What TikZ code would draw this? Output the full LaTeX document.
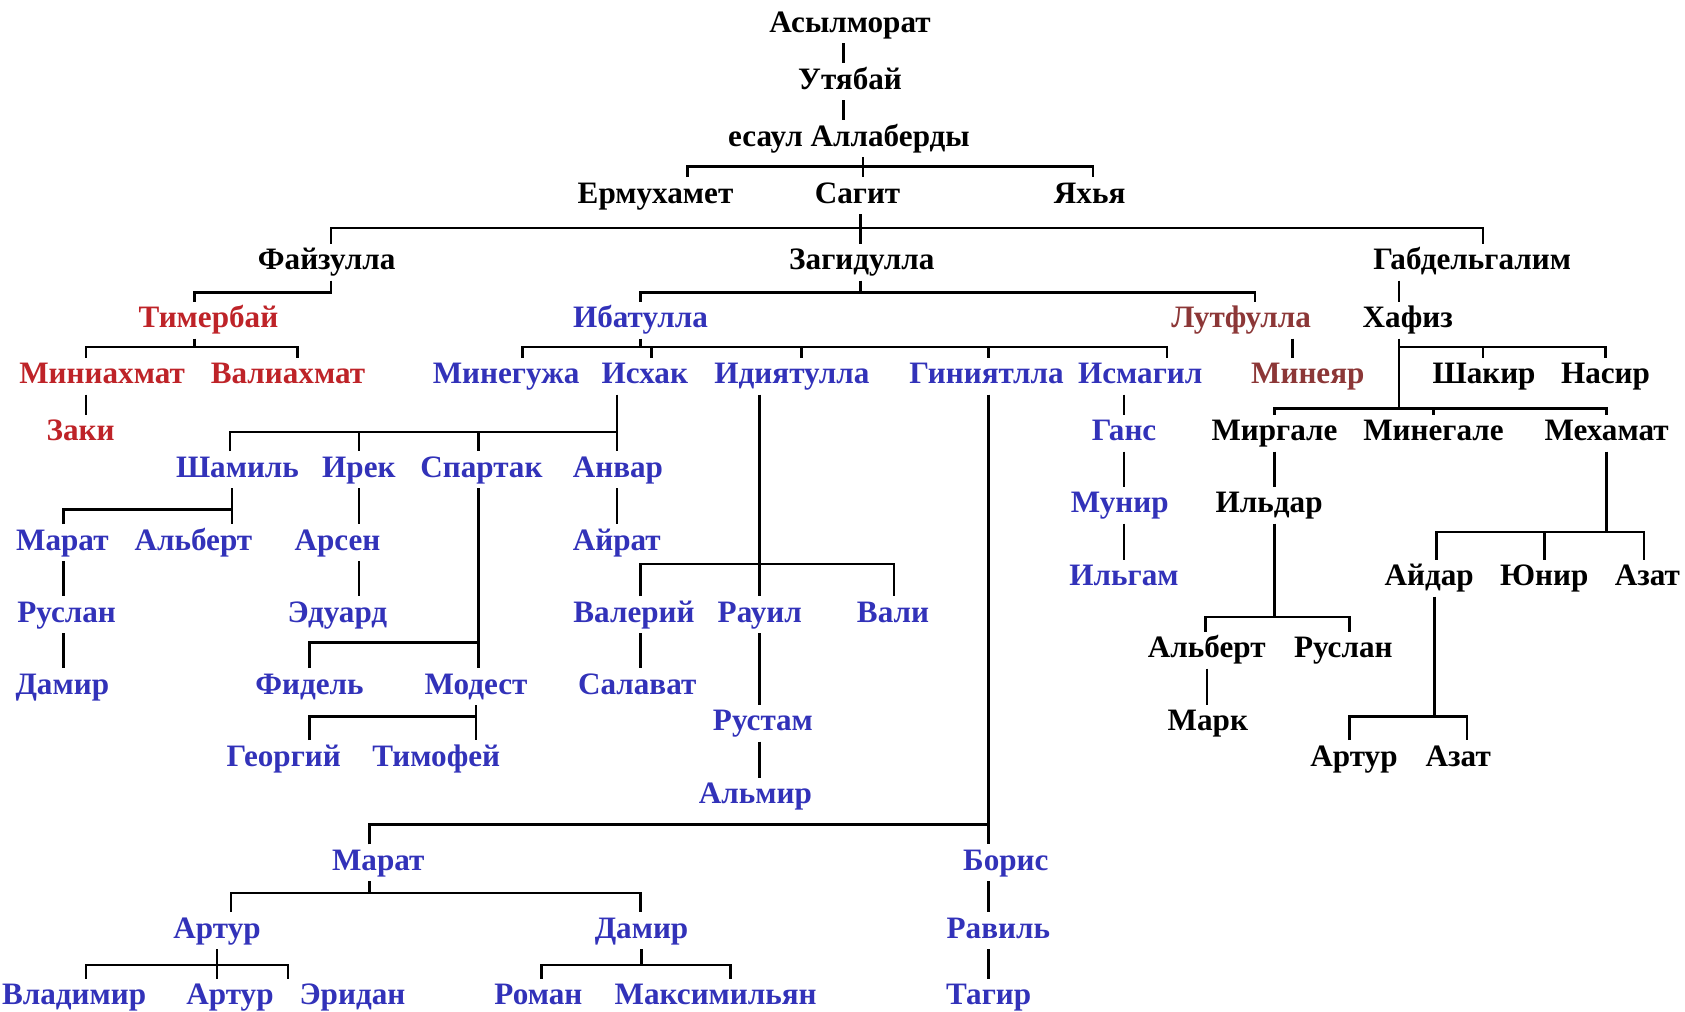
\documentclass[tikz,border=0pt]{standalone}
\usepackage{fontspec}
\newfontfamily\namefont{Liberation Serif}
\definecolor{famred}{RGB}{190,35,40}
\definecolor{famblue}{RGB}{50,50,185}
\definecolor{fambrown}{RGB}{140,55,55}
\tikzset{
  nm/.style={font=\namefont\bfseries\fontsize{14.5}{16}\selectfont,anchor=base,inner xsep=1pt,inner ysep=1.5pt,text height=10pt,text depth=3pt},
  rd/.style={nm,text=famred},
  bl/.style={nm,text=famblue},
  br/.style={nm,text=fambrown}
}
\begin{document}
\begin{tikzpicture}[x=0.5pt,y=-0.5pt,line width=1.2pt]
\useasboundingbox (0,0) rectangle (1568,941);
% names
\node[nm] (asyl) at (791,30) {Асылморат};
\node[nm] (utya) at (791,83) {Утябай};
\node[nm] (alla) at (790,136) {есаул Аллаберды};
\node[nm] (ermu) at (610,189) {Ермухамет};
\node[nm] (sagit) at (798,189) {Сагит};
\node[nm] (yahya) at (1014,189) {Яхья};
\node[nm] (fayz) at (304,251) {Файзулла};
\node[nm] (zagid) at (802,251) {Загидулла};
\node[nm] (gabd) at (1370,251) {Габдельгалим};
\node[rd] (timer) at (194,305) {Тимербай};
\node[bl] (ibat) at (596,305) {Ибатулла};
\node[br] (lutf) at (1155,305) {Лутфулла};
\node[nm] (hafiz) at (1310,305) {Хафиз};
\node[rd] (miniah) at (95,357) {Миниахмат};
\node[rd] (valiah) at (268,357) {Валиахмат};
\node[bl] (mineg) at (471,357) {Минегужа};
\node[bl] (ishak) at (600,357) {Исхак};
\node[bl] (idiya) at (737,357) {Идиятулла};
\node[bl] (giniya) at (918,357) {Гиниятлла};
\node[bl] (ismag) at (1061,357) {Исмагил};
\node[br] (miney) at (1217,357) {Минеяр};
\node[nm] (shakir) at (1381,357) {Шакир};
\node[nm] (nasir) at (1494,357) {Насир};
\node[rd] (zaki) at (75,410) {Заки};
\node[bl] (gans) at (1046,410) {Ганс};
\node[nm] (mirg) at (1186,410) {Миргале};
\node[nm] (minegale) at (1334,410) {Минегале};
\node[nm] (meham) at (1495,410) {Мехамат};
\node[bl] (shamil) at (221,444) {Шамиль};
\node[bl] (irek) at (334,444) {Ирек};
\node[bl] (spart) at (448,444) {Спартак};
\node[bl] (anvar) at (575,444) {Анвар};
\node[bl] (munir) at (1042,477) {Мунир};
\node[nm] (ildar) at (1181,477) {Ильдар};
\node[bl] (marat) at (58,512) {Марат};
\node[bl] (albert) at (180,512) {Альберт};
\node[bl] (arsen) at (314,512) {Арсен};
\node[bl] (ayrat) at (574,512) {Айрат};
\node[bl] (ilgam) at (1046,545) {Ильгам};
\node[nm] (aydar) at (1330,545) {Айдар};
\node[nm] (yunir) at (1437,545) {Юнир};
\node[nm] (azat) at (1533,545) {Азат};
\node[bl] (ruslan) at (62,579) {Руслан};
\node[bl] (eduard) at (314,579) {Эдуард};
\node[bl] (valeriy) at (590,579) {Валерий};
\node[bl] (rauil) at (707,579) {Рауил};
\node[bl] (vali) at (831,579) {Вали};
\node[nm] (albertb) at (1123,612) {Альберт};
\node[nm] (ruslanb) at (1250,612) {Руслан};
\node[bl] (damir) at (58,646) {Дамир};
\node[bl] (fidel) at (288,646) {Фидель};
\node[bl] (modest) at (443,646) {Модест};
\node[bl] (salavat) at (593,646) {Салават};
\node[bl] (rustam) at (710,680) {Рустам};
\node[nm] (mark) at (1124,680) {Марк};
\node[bl] (georgiy) at (264,713) {Георгий};
\node[bl] (timofey) at (406,713) {Тимофей};
\node[nm] (arturb) at (1260,713) {Артур};
\node[nm] (azatb) at (1357,713) {Азат};
\node[bl] (almir) at (703,748) {Альмир};
\node[bl] (marat2) at (352,810) {Марат};
\node[bl] (boris) at (936,810) {Борис};
\node[bl] (artur) at (202,873) {Артур};
\node[bl] (damir2) at (597,873) {Дамир};
\node[bl] (ravil) at (929,873) {Равиль};
\node[bl] (vladimir) at (69,935) {Владимир};
\node[bl] (artur2) at (214,935) {Артур};
\node[bl] (eridan) at (328,935) {Эридан};
\node[bl] (roman) at (501,935) {Роман};
\node[bl] (maksim) at (666,935) {Максимильян};
\node[bl] (tagir) at (920,935) {Тагир};
% top line
\draw (asyl.south -| 785,0) -- (utya.north -| 785,0);
\draw (utya.south -| 785,0) -- (alla.north -| 785,0);
\draw (alla.south -| 803,0) -- (sagit.north -| 803,0);
\draw (ermu.north -| 640,0) -- (640,155) -- (1017,155) -- (yahya.north -| 1017,0);
\draw (sagit.south -| 801,0) -- (zagid.north -| 801,0);
\draw (fayz.north -| 308,0) -- (308,212) -- (1380,212) -- (gabd.north -| 1380,0);
% Fayzulla
\draw (fayz.south -| 308,0) -- (308,272) -- (181,272) -- (timer.north -| 181,0);
\draw (timer.south -| 181,0) -- (181,323);
\draw (miniah.north -| 80,0) -- (80,323) -- (277,323) -- (valiah.north -| 277,0);
\draw (miniah.south -| 80,0) -- (zaki.north -| 80,0);
% Zagidulla
\draw (zagid.south -| 801,0) -- (801,272);
\draw (ibat.north -| 596,0) -- (596,272) -- (1168,272) -- (lutf.north -| 1168,0);
\draw (lutf.south -| 1203,0) -- (miney.north -| 1203,0);
\draw (ibat.south -| 596,0) -- (596,323);
\draw (mineg.north -| 486,0) -- (486,323) -- (1086,323) -- (ismag.north -| 1086,0);
\draw (606,323) -- (ishak.north -| 606,0);
\draw (746,323) -- (idiya.north -| 746,0);
\draw (920,323) -- (giniya.north -| 920,0);
% Ishak
\draw (ishak.south -| 574,0) -- (anvar.north -| 574,0);
\draw (shamil.north -| 214,0) -- (214,402) -- (574,402);
\draw (334,402) -- (irek.north -| 334,0);
\draw (445,402) -- (spart.north -| 445,0);
\draw (shamil.south -| 216,0) -- (albert.north -| 216,0);
\draw (marat.north -| 59,0) -- (59,474) -- (216,474);
\draw (marat.south -| 59,0) -- (ruslan.north -| 59,0);
\draw (ruslan.south -| 59,0) -- (damir.north -| 59,0);
\draw (irek.south -| 334,0) -- (arsen.north -| 334,0);
\draw (arsen.south -| 334,0) -- (eduard.north -| 334,0);
\draw (spart.south -| 445,0) -- (modest.north -| 445,0);
\draw (fidel.north -| 288,0) -- (288,598) -- (445,598);
\draw (modest.south -| 443,0) -- (timofey.north -| 443,0);
\draw (georgiy.north -| 288,0) -- (288,667) -- (443,667);
\draw (anvar.south -| 574,0) -- (ayrat.north -| 574,0);
% Idiyatulla
\draw (idiya.south -| 707,0) -- (rauil.north -| 707,0);
\draw (valeriy.north -| 596,0) -- (596,525) -- (832,525) -- (vali.north -| 832,0);
\draw (valeriy.south -| 596,0) -- (salavat.north -| 596,0);
\draw (rauil.south -| 707,0) -- (rustam.north -| 707,0);
\draw (rustam.south -| 707,0) -- (almir.north -| 707,0);
% Giniyatlla
\draw (giniya.south -| 920,0) -- (boris.north -| 920,0);
\draw (marat2.north -| 344,0) -- (344,767) -- (920,767);
\draw (boris.south -| 920,0) -- (ravil.north -| 920,0);
\draw (ravil.south -| 920,0) -- (tagir.north -| 920,0);
\draw (marat2.south -| 344,0) -- (344,831);
\draw (artur.north -| 215,0) -- (215,831) -- (596,831) -- (damir2.north -| 596,0);
\draw (artur.south -| 202,0) -- (artur2.north -| 202,0);
\draw (vladimir.north -| 80,0) -- (80,898) -- (268,898) -- (eridan.north -| 268,0);
\draw (damir2.south -| 597,0) -- (597,898);
\draw (roman.north -| 504,0) -- (504,898) -- (680,898) -- (maksim.north -| 680,0);
% Ismagil
\draw (ismag.south -| 1046,0) -- (gans.north -| 1046,0);
\draw (gans.south -| 1046,0) -- (munir.north -| 1046,0);
\draw (munir.south -| 1046,0) -- (ilgam.north -| 1046,0);
% Gabdelgalim
\draw (gabd.south -| 1302,0) -- (hafiz.north -| 1302,0);
\draw (hafiz.south -| 1302,0) -- (1302,380);
\draw (1302,323) -- (1494,323) -- (nasir.north -| 1494,0);
\draw (1380,323) -- (shakir.north -| 1380,0);
\draw (mirg.north -| 1186,0) -- (1186,380) -- (1495,380) -- (meham.north -| 1495,0);
\draw (1334,380) -- (minegale.north -| 1334,0);
\draw (mirg.south -| 1186,0) -- (ildar.north -| 1186,0);
\draw (ildar.south -| 1186,0) -- (1186,574);
\draw (albertb.north -| 1122,0) -- (1122,574) -- (1256,574) -- (ruslanb.north -| 1256,0);
\draw (albertb.south -| 1123,0) -- (mark.north -| 1123,0);
\draw (meham.south -| 1495,0) -- (1495,495);
\draw (aydar.north -| 1337,0) -- (1337,495) -- (1530,495) -- (azat.north -| 1530,0);
\draw (1437,495) -- (yunir.north -| 1437,0);
\draw (aydar.south -| 1335,0) -- (1335,667);
\draw (arturb.north -| 1256,0) -- (1256,667) -- (1365,667) -- (azatb.north -| 1365,0);
\end{tikzpicture}
\end{document}
